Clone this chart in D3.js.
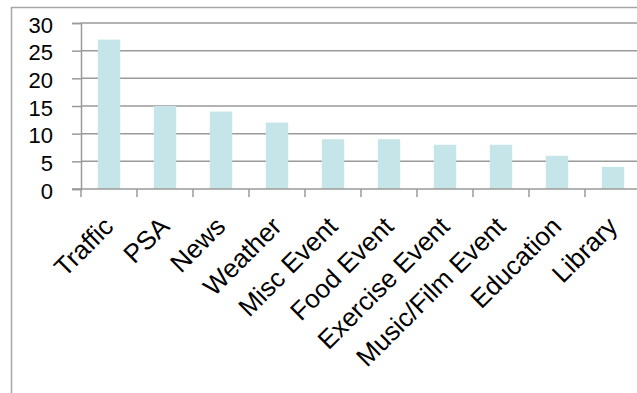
<!DOCTYPE html>
<html>
<head>
<meta charset="utf-8">
<script src="https://cdn.jsdelivr.net/npm/d3@7"></script>
<style>
  html, body { margin: 0; padding: 0; background: #fff; }
  svg { display: block; }
</style>
</head>
<body>
<svg id="chart" width="637" height="393"></svg>
<script>
const categories = ["Traffic", "PSA", "News", "Weather", "Misc Event", "Food Event",
  "Exercise Event", "Music/Film Event", "Education", "Library"];
const values = [27, 15, 14, 12, 9, 9, 8, 8, 6, 4];
const yTicks = [0, 5, 10, 15, 20, 25, 30];

const svg = d3.select("#chart");
const W = 637, H = 393;
const plot = { left: 81, top: 23, bottom: 189, right: 641 };
const font = "Liberation Sans, Arial, sans-serif";
const axisGrey = "#9a9a9a";

// chart frame (runs off the right and bottom edges)
svg.append("rect")
  .attr("x", 11.5).attr("y", 7.5)
  .attr("width", W + 20).attr("height", H + 20)
  .attr("fill", "none").attr("stroke", "#a6a6a6").attr("stroke-width", 1.5);

const x = d3.scaleBand().domain(categories).range([plot.left, plot.right]);
const y = d3.scaleLinear().domain([0, 30]).range([plot.bottom, plot.top]);
const barW = x.bandwidth() * 0.4;

// gridlines
svg.append("g").selectAll("line").data(yTicks.filter(d => d > 0)).join("line")
  .attr("x1", plot.left).attr("x2", W)
  .attr("y1", d => y(d)).attr("y2", d => y(d))
  .attr("stroke", axisGrey).attr("stroke-width", 1.5);

// bars
svg.append("g").selectAll("rect").data(values).join("rect")
  .attr("x", (d, i) => x(categories[i]) + x.bandwidth() / 2 - barW / 2)
  .attr("width", barW)
  .attr("y", d => y(d))
  .attr("height", d => y(0) - y(d))
  .attr("fill", "#c6e5e8");

// y axis
const yAxis = svg.append("g").attr("transform", `translate(${plot.left},0)`)
  .call(d3.axisLeft(y).tickValues(yTicks).tickSize(9).tickPadding(19));
yAxis.select(".domain").attr("stroke", axisGrey).attr("stroke-width", 1.5);
yAxis.selectAll(".tick line").attr("stroke", axisGrey).attr("stroke-width", 1.5);
yAxis.selectAll(".tick text")
  .attr("font-family", font)
  .attr("font-size", 22).attr("fill", "#000").attr("dy", "0.42em");

// x axis: baseline plus tick marks on category boundaries
svg.append("line")
  .attr("x1", plot.left - 9).attr("x2", W)
  .attr("y1", plot.bottom).attr("y2", plot.bottom)
  .attr("stroke", axisGrey).attr("stroke-width", 1.5);
svg.append("g").selectAll("line").data(d3.range(categories.length + 1)).join("line")
  .attr("x1", i => plot.left + i * x.step()).attr("x2", i => plot.left + i * x.step())
  .attr("y1", plot.bottom).attr("y2", plot.bottom + 8)
  .attr("stroke", axisGrey).attr("stroke-width", 1.5);

// rotated category labels
const xAxis = svg.append("g").attr("transform", `translate(0,${plot.bottom})`)
  .call(d3.axisBottom(x).tickSize(0));
xAxis.select(".domain").remove();
xAxis.selectAll(".tick text")
  .attr("font-family", font)
  .attr("font-size", 26).attr("fill", "#000")
  .attr("text-anchor", "end")
  .attr("x", 0).attr("y", 0).attr("dy", "0.71em")
  .attr("transform", "translate(-7,26) rotate(-45)");
</script>
</body>
</html>
